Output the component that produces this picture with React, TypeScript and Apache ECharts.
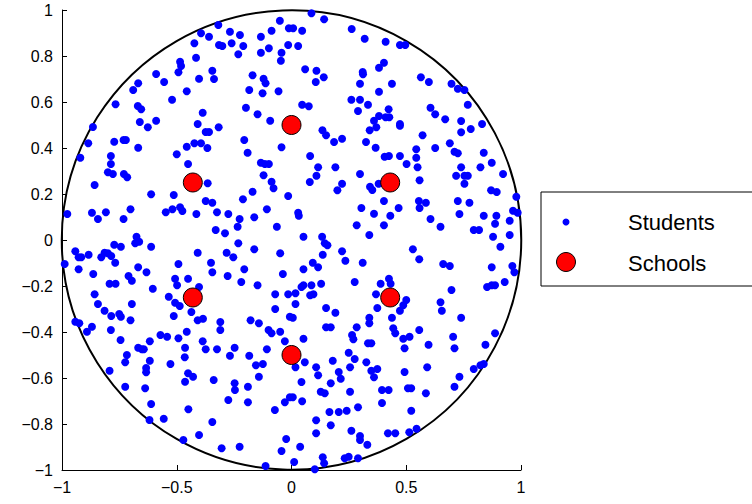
import React, { useEffect, useRef } from 'react';
import * as echarts from 'echarts';

// points, per quadrant, as offsets of 1/690 unit from the quadrant's top-left corner
const readScale = 690;
const q1: number[][] = [[470,45],[655,32],[418,70],[442,80],[505,65],[535,75],[598,80],[630,62],[682,55],[398,100],[472,105],[482,108],[510,100],[545,108],[530,133],[598,128],[622,115],[660,128],[680,105],[658,152],[403,143],[355,155],[358,168],[350,187],[452,182],[457,207],[412,206],[283,192],[307,216],[229,220],[214,240],[375,244],[331,269],[573,196],[606,206],[612,220],[563,240],[603,250],[651,244],[161,283],[228,288],[238,298],[553,293],[588,313],[626,332],[423,308],[408,342],[471,352],[432,366],[442,366],[234,336],[258,352],[283,332],[93,351],[79,400],[157,395],[185,390],[192,390],[229,413],[55,443],[147,438],[147,462],[138,487],[153,492],[186,492],[196,502],[375,410],[398,400],[418,400],[437,414],[345,433],[379,462],[548,390],[558,428],[660,412],[598,458],[610,462],[622,462],[606,496],[630,515],[636,535],[680,558],[98,525],[268,553],[336,555],[438,520],[573,545],[544,568],[432,573],[452,578],[16,612],[90,608],[108,627],[132,607],[185,627],[206,598],[312,607],[332,598],[355,592],[362,603],[404,612],[466,607],[500,612],[534,627],[528,650],[578,622],[616,598],[646,650],[462,660],[490,670],[224,680]];
const q2: number[][] = [[60,10],[98,28],[5,55],[32,62],[181,57],[220,86],[283,95],[326,105],[342,105],[20,108],[41,178],[75,182],[73,216],[97,202],[214,186],[215,193],[263,173],[278,158],[206,221],[302,221],[263,245],[389,202],[413,216],[481,221],[500,236],[520,240],[530,284],[180,269],[206,269],[230,284],[200,303],[292,298],[32,284],[52,289],[248,332],[263,318],[283,322],[294,322],[255,352],[235,361],[326,342],[326,347],[418,293],[432,313],[462,328],[510,333],[573,342],[539,357],[510,367],[93,361],[104,376],[128,396],[152,386],[224,396],[253,413],[394,376],[432,414],[375,418],[476,400],[490,425],[500,430],[56,438],[80,472],[75,497],[55,516],[132,472],[152,521],[138,541],[206,492],[280,440],[293,438],[326,438],[346,462],[375,443],[379,472],[510,472],[520,497],[530,497],[495,497],[520,521],[578,428],[602,458],[568,472],[636,492],[385,511],[236,530],[243,540],[262,521],[600,541],[617,546],[676,560],[278,573],[210,594],[248,611],[297,617],[322,594],[383,573],[404,578],[385,594],[500,573],[535,578],[505,612],[418,627],[448,650],[578,617],[616,617],[666,602],[680,608],[656,632],[612,641],[548,660],[564,660],[656,675],[606,680],[196,646],[234,675],[278,646],[92,680],[36,680],[20,608],[22,617]];
const q3: number[][] = [[8,72],[40,34],[50,52],[80,44],[58,52],[128,38],[138,40],[148,48],[118,52],[157,14],[177,20],[220,10],[232,5],[268,20],[160,68],[50,88],[94,102],[229,82],[254,97],[200,108],[210,122],[143,131],[161,131],[273,146],[350,72],[340,116],[346,136],[379,116],[412,141],[408,38],[448,68],[452,97],[495,38],[515,52],[530,10],[578,28],[656,40],[548,88],[498,108],[539,126],[588,136],[664,102],[98,163],[108,192],[128,212],[148,228],[172,222],[177,230],[210,192],[206,241],[40,245],[52,250],[90,260],[75,275],[147,270],[176,300],[321,170],[340,188],[354,198],[336,228],[389,216],[408,241],[424,236],[476,246],[476,270],[375,275],[296,285],[316,290],[350,295],[423,304],[432,328],[466,328],[370,323],[369,352],[519,323],[505,347],[563,347],[567,241],[592,250],[621,270],[630,280],[656,275],[616,328],[641,163],[680,163],[641,207],[685,230],[670,304],[229,323],[246,328],[240,328],[264,304],[195,345],[190,367],[264,362],[253,384],[253,397],[326,372],[143,392],[190,440],[250,445],[379,400],[394,410],[370,425],[456,420],[519,430],[520,450],[559,440],[500,480],[559,487],[583,376],[604,372],[592,410],[268,492],[380,508],[263,540],[306,536],[452,546],[640,510],[670,487],[685,472],[412,585],[365,600],[480,625],[534,620],[660,633],[674,597],[612,678]];
const q4: number[][] = [[100,10],[108,16],[152,34],[162,62],[214,68],[94,44],[64,68],[80,82],[36,88],[365,28],[384,58],[456,72],[476,78],[602,82],[628,20],[664,78],[670,97],[190,126],[89,131],[60,136],[36,136],[30,141],[12,160],[56,166],[66,163],[12,192],[268,131],[293,116],[298,131],[254,163],[345,180],[336,196],[326,212],[258,204],[302,233],[104,204],[132,218],[4,233],[234,233],[234,250],[196,262],[104,262],[118,262],[36,296],[182,285],[186,298],[306,265],[312,280],[336,296],[355,290],[340,325],[384,270],[412,314],[448,187],[452,212],[481,150],[510,233],[588,141],[602,136],[612,136],[641,126],[486,290],[490,325],[583,314],[612,280],[230,310],[240,310],[172,338],[190,357],[124,362],[176,382],[225,367],[240,392],[258,387],[248,412],[142,396],[148,416],[118,430],[74,382],[80,406],[40,367],[12,382],[30,426],[340,396],[408,382],[505,410],[490,440],[548,387],[568,376],[578,372],[272,450],[292,450],[350,445],[360,445],[404,460],[272,489],[176,455],[88,455],[100,460],[32,484],[4,472],[200,502],[166,512],[142,516],[114,516],[74,541],[118,556],[360,512],[180,572],[74,580],[206,588],[206,600],[228,614],[290,580],[312,580],[354,577],[376,566],[26,620],[94,652],[98,670],[160,655],[172,650],[200,655],[8,666],[70,688]];
const quadCorners: number[][] = [[-1, 1], [0, 1], [-1, 0], [0, 0]];

const schools: number[][] = [[0, 0.5], [0.43, 0.25], [0.43, -0.25], [0, -0.5], [-0.43, -0.25], [-0.43, 0.25]];

const students: number[][] = [q1, q2, q3, q4].flatMap((q, i) =>
  q.map(([dx, dy]) => [quadCorners[i][0] + dx / readScale, quadCorners[i][1] - dy / readScale]),
);

const fmt = (v: number) => String(Math.round(v * 10) / 10).replace('-', '\u2212');
const FONT = 'Liberation Sans, Arial, sans-serif';

const App: React.FC = () => {
  const ref = useRef<HTMLDivElement>(null);

  useEffect(() => {
    document.body.style.margin = '0';
    if (!ref.current) return;
    const chart = echarts.init(ref.current, null, { renderer: 'svg' });
    const axisCommon = {
      type: 'value',
      min: -1,
      max: 1,
      axisLine: { show: true, onZero: false, lineStyle: { color: '#000', width: 1 } },
      axisTick: { show: true, inside: true, length: 5, lineStyle: { color: '#000' } },
      splitLine: { show: false },
      axisLabel: { color: '#000', fontSize: 16, fontFamily: FONT, formatter: fmt, margin: 9 },
    };
    chart.setOption({
      animation: false,
      grid: { left: 62, right: 231, top: 10, bottom: 34 },
      xAxis: { ...axisCommon, interval: 0.5 },
      yAxis: { ...axisCommon, interval: 0.2 },
      series: [
        {
          name: 'Students',
          type: 'scatter',
          data: students,
          symbolSize: 8,
          itemStyle: { color: '#0000ff', opacity: 1 },
          z: 3,
        },
        {
          name: 'Schools',
          type: 'scatter',
          data: schools,
          symbolSize: 19,
          itemStyle: { color: '#ff0000', borderColor: '#000', borderWidth: 1, opacity: 1 },
          z: 4,
        },
      ],
    });
    const c = chart.convertToPixel({ gridIndex: 0 }, [0, 0]) as number[];
    const e = chart.convertToPixel({ gridIndex: 0 }, [1, 1]) as number[];
    const r = (e[0] - c[0] + (c[1] - e[1])) / 2;
    chart.setOption({
      graphic: [
        { type: 'circle', shape: { cx: c[0], cy: c[1], r }, style: { fill: 'none', stroke: '#000', lineWidth: 2 }, z: 2 },
        { type: 'rect', shape: { x: 541, y: 192, width: 220, height: 94 }, style: { fill: '#fff', stroke: '#000', lineWidth: 1 } },
        { type: 'circle', shape: { cx: 566, cy: 222, r: 3.5 }, style: { fill: '#0000ff' } },
        { type: 'circle', shape: { cx: 566, cy: 262, r: 9.5 }, style: { fill: '#ff0000', stroke: '#000', lineWidth: 1 } },
        { type: 'text', x: 628, y: 222, style: { text: 'Students', fontSize: 22, fontFamily: FONT, fill: '#000', verticalAlign: 'middle' } },
        { type: 'text', x: 628, y: 263, style: { text: 'Schools', fontSize: 22, fontFamily: FONT, fill: '#000', verticalAlign: 'middle' } },
      ],
    });
    return () => chart.dispose();
  }, []);

  return <div ref={ref} style={{ width: 752, height: 504 }} />;
};

export default App;
